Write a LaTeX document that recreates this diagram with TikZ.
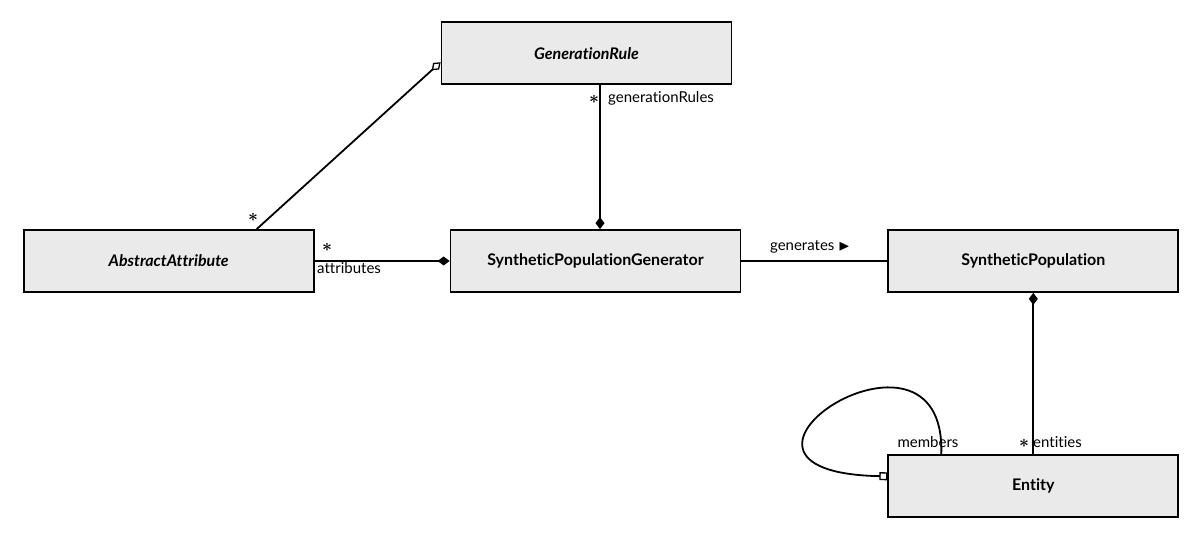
\documentclass[tikz,border=0pt]{standalone}
\usepackage{amssymb}
\usepackage{fontspec}
\setmainfont{Lato}[Ligatures=NoCommon]
\usepackage{tikz}
\usetikzlibrary{arrows.meta,positioning}
\definecolor{cBox}{RGB}{234,234,234}
\tikzset{
  cls/.style={draw=black, fill=cBox, line width=1.8pt, minimum width=290pt,
              minimum height=62pt, inner sep=0pt, font=\fontsize{16}{18}\selectfont\bfseries},
  acls/.style={cls, font=\fontsize{16}{18}\selectfont\bfseries\itshape},
  assoc/.style={line width=1.8pt},
  comp/.style={assoc, {Diamond[length=12pt,width=9pt]}-},
  aggr/.style={assoc, {Diamond[open,length=12pt,width=9pt,line width=1.3pt]}-},
  shared/.style={assoc, -{Square[open,length=8pt,width=8pt,line width=1.3pt]}},
  lbl/.style={font=\fontsize{15}{16}\selectfont, inner sep=0pt},
  mult/.style={font=\fontsize{19}{19}\selectfont\boldmath, inner sep=0pt},
}

\begin{document}
\begin{tikzpicture}[x=1pt,y=-1pt]
  \useasboundingbox (0,0) rectangle (1198,534);
  \node[cls] (spg) at (595.5,261) {SyntheticPopulationGenerator};
  \node[acls, left=135pt of spg] (attr) {AbstractAttribute};
  \node[cls, right=146pt of spg] (sp) {SyntheticPopulation};
  \node[acls, above=144pt of spg, xshift=-9pt] (rule) {GenerationRule};
  \node[cls, below=161pt of sp] (entity) {Entity};

  % rule -- attribute (aggregation)
  \draw[aggr] ([yshift=-9pt]rule.west) -- ([xshift=88pt]attr.north);
  \node[mult] (m1) at (253,217) {$\ast$};
  % rule -- generator
  \draw[comp] ([xshift=4.5pt]spg.north) -- ([xshift=4.5pt]spg.north |- rule.south);
  \node[mult] (m2) at (594,99) {$\ast$};
  \node[lbl, anchor=west] (r2) at (608,98) {generationRules};
  % attribute -- generator
  \draw[comp] (spg.west) -- (attr.east);
  \node[mult] (m3) at (327,247) {$\ast$};
  \node[lbl, anchor=west] (r3) at (317,268) {attributes};
  % generator -- population
  \draw[assoc] (spg.east) -- (sp.west);
  \node[lbl] (r4) at (810,247) {generates $\blacktriangleright$};
  % population -- entity
  \draw[comp] (sp.south) -- (entity.north);
  \node[mult] (m5) at (1024,443) {$\ast$};
  \node[lbl, anchor=west] (r5) at (1033,442) {entities};
  % entity self loop
  \draw[shared] ([xshift=-92pt]entity.north) .. controls +(5,-160) and +(-215,-4) .. ([yshift=9.5pt]entity.west);
  \node[lbl] (r6) at (928,442) {members};
\end{tikzpicture}
\end{document}
